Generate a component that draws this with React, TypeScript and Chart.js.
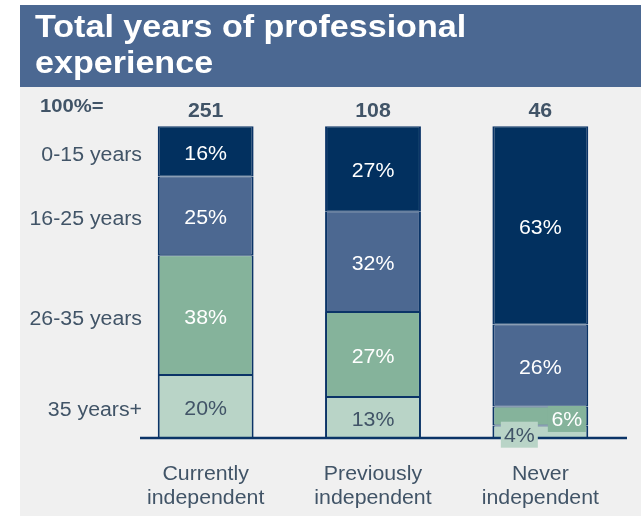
import { useEffect, useRef } from "react";
import { Chart, registerables } from "chart.js";

Chart.register(...registerables);

// ---- data ----
const categories: string[][] = [
  ["Currently", "independent"],
  ["Previously", "independent"],
  ["Never", "independent"],
];
const totals = ["251", "108", "46"];
const groupLabels = ["35 years+", "26-35 years", "16-25 years", "0-15 years"];
const years35plus = [20, 13, 4];
const years26to35 = [38, 27, 6];
const years16to25 = [25, 32, 26];
const years0to15 = [16, 27, 63];
const titleLines = ["Total years of professional", "experience"];
const totalLabel = "100%=";

// ---- styles ----
const FONT = '"Liberation Sans", Arial, sans-serif';
const SX = 1.065;
const NAVY = "#02305f";
const MID = "#4c6891";
const GREEN = "#85b39b";
const LIGHT = "#b9d4c7";
const BORDER = "#0b3467";
const TEXT = "#415467";
const TITLE_BG = "#4b6892";
const BG = "#f0f0f0";
const segColors = [LIGHT, GREEN, MID, NAVY];
const labelColors = [TEXT, "#ffffff", "#ffffff", "#ffffff"];
// special placement for small segments: key "dataset-bar"
const labelOverrides: Record<string, { dx: number; dy: number; w: number; h: number }> = {
  "1-2": { dx: 26.5, dy: 3, w: 38, h: 26 },
  "0-2": { dx: -21, dy: 3, w: 37, h: 26 },
};

function drawText(
  ctx: CanvasRenderingContext2D,
  text: string,
  x: number,
  y: number,
  align: CanvasTextAlign,
  baseline: CanvasTextBaseline
) {
  ctx.save();
  ctx.translate(x, y);
  ctx.scale(SX, 1);
  ctx.textAlign = align;
  ctx.textBaseline = baseline;
  ctx.fillText(text, 0, 0);
  ctx.restore();
}

const decorPlugin = {
  id: "decor",
  beforeDraw(chart: any) {
    const ctx = chart.ctx as CanvasRenderingContext2D;
    ctx.save();
    ctx.fillStyle = "#ffffff";
    ctx.fillRect(0, 0, chart.width, chart.height);
    ctx.fillStyle = BG;
    ctx.fillRect(20, 87, chart.width - 20, chart.height - 87);
    ctx.fillStyle = TITLE_BG;
    ctx.fillRect(20, 5, chart.width - 20, 82);
    ctx.fillStyle = "#ffffff";
    ctx.font = `bold 32px ${FONT}`;
    drawText(ctx, titleLines[0], 35, 37, "left", "alphabetic");
    drawText(ctx, titleLines[1], 35, 73, "left", "alphabetic");
    ctx.restore();
  },
  afterDatasetsDraw(chart: any) {
    const ctx = chart.ctx as CanvasRenderingContext2D;
    const area = chart.chartArea;
    const yScale = chart.scales.y;
    const xScale = chart.scales.x;
    const y0 = yScale.getPixelForValue(0);
    ctx.save();
    // baseline
    ctx.strokeStyle = BORDER;
    ctx.lineWidth = 2.5;
    ctx.beginPath();
    ctx.moveTo(area.left + 18, y0);
    ctx.lineTo(area.right + 3, y0);
    ctx.stroke();

    // segment labels
    ctx.font = `20px ${FONT}`;
    chart.data.datasets.forEach((ds: any, di: number) => {
      const meta = chart.getDatasetMeta(di);
      meta.data.forEach((el: any, bi: number) => {
        const v = ds.data[bi];
        const cx = el.x;
        const cy = (el.y + el.base) / 2;
        const ov = labelOverrides[`${di}-${bi}`];
        const text = `${v}%`;
        if (ov) {
          const bx = cx + ov.dx;
          const by = cy + ov.dy;
          ctx.fillStyle = segColors[di];
          ctx.fillRect(bx - ov.w / 2, by - ov.h / 2, ov.w, ov.h);
          ctx.fillStyle = labelColors[di];
          drawText(ctx, text, bx, by + 1.5, "center", "middle");
        } else {
          ctx.fillStyle = labelColors[di];
          drawText(ctx, text, cx, cy + 3, "center", "middle");
        }
      });
    });

    // row labels aligned to first bar's segments
    ctx.fillStyle = TEXT;
    ctx.font = `20px ${FONT}`;
    groupLabels.forEach((lbl, di) => {
      const el: any = chart.getDatasetMeta(di).data[0];
      const cy = (el.y + el.base) / 2;
      drawText(ctx, lbl, 142, cy + 4, "right", "middle");
    });

    // totals
    const topMeta = chart.getDatasetMeta(chart.data.datasets.length - 1);
    ctx.font = `bold 20px ${FONT}`;
    ctx.fillStyle = TEXT;
    let firstTop = 0;
    totals.forEach((t, i) => {
      const el: any = topMeta.data[i];
      if (i === 0) firstTop = el.y;
      drawText(ctx, t, el.x, el.y - 9, "center", "alphabetic");
    });
    ctx.font = `bold 19px ${FONT}`;
    drawText(ctx, totalLabel, 40, firstTop - 14, "left", "alphabetic");

    // category labels
    ctx.font = `20px ${FONT}`;
    categories.forEach((lines, i) => {
      const x = xScale.getPixelForValue(i);
      lines.forEach((line, li) => {
        drawText(ctx, line, x, 474 + li * 24.5, "center", "middle");
      });
    });
    ctx.restore();
  },
};

export default function App() {
  const ref = useRef<HTMLCanvasElement>(null);
  useEffect(() => {
    document.body.style.margin = "0";
    const series = [years35plus, years26to35, years16to25, years0to15];
    const chart = new Chart(ref.current!, {
      type: "bar",
      data: {
        labels: categories.map((c) => c.join(" ")),
        datasets: series.map((data, i) => ({
          label: groupLabels[i],
          data,
          backgroundColor: segColors[i],
          borderColor: BORDER,
          borderWidth: { top: 1, bottom: 1, left: 2, right: 2 },
          borderSkipped: false as any,
          categoryPercentage: 1,
          barPercentage: 0.573,
        })),
      },
      options: {
        responsive: false,
        animation: false,
        layout: { padding: { left: 122, right: 17, top: 123, bottom: 78 } },
        scales: {
          x: { display: false, stacked: true },
          y: { display: false, stacked: true, min: 0, max: 100 },
        },
        plugins: {
          legend: { display: false },
          tooltip: { enabled: false },
        },
      },
      plugins: [decorPlugin],
    });
    return () => chart.destroy();
  }, []);
  return (
    <div style={{ width: 641, height: 516 }}>
      <canvas ref={ref} width={641} height={516} style={{ display: "block" }} />
    </div>
  );
}
